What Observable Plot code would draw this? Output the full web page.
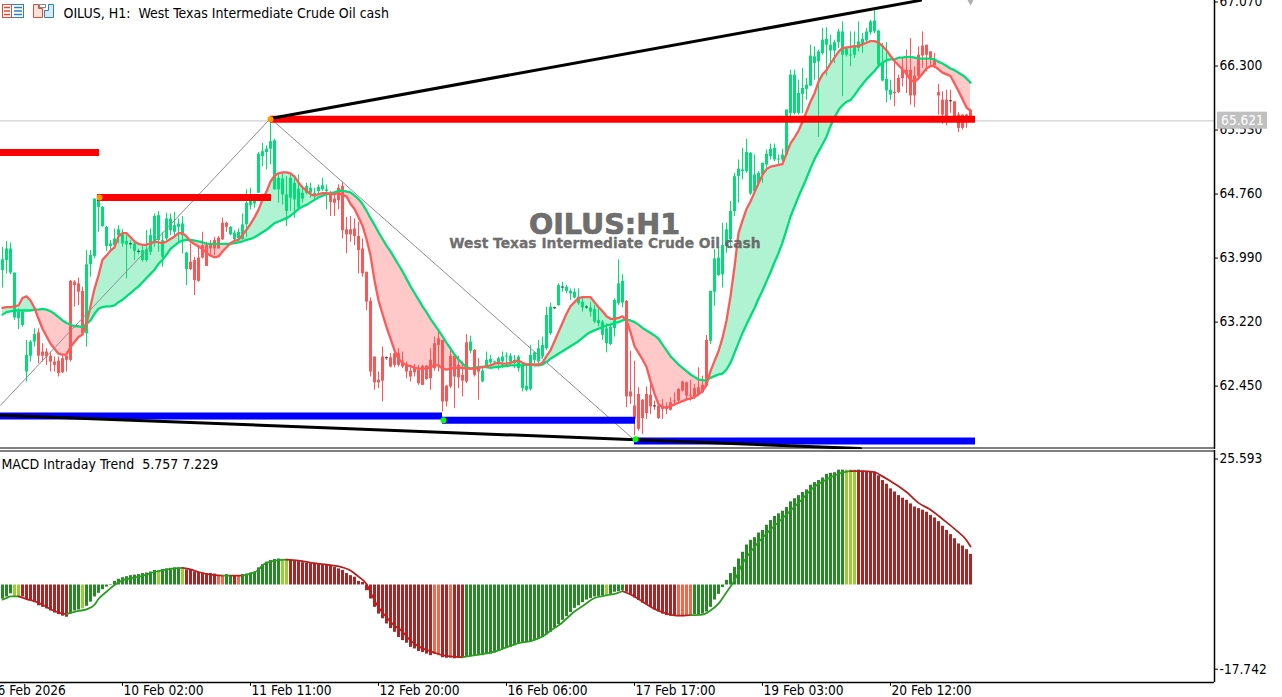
<!DOCTYPE html>
<html><head><meta charset="utf-8">
<script src="https://cdn.jsdelivr.net/npm/d3@7"></script>
<script src="https://cdn.jsdelivr.net/npm/@observablehq/plot@0.6"></script>
<style>
html,body{margin:0;padding:0;background:#fff;overflow:hidden}
#wrap{position:relative;width:1282px;height:697px}
#price,#macd{position:absolute;left:0}
#price{top:0}#macd{top:450px}
#icons{position:absolute;left:2px;top:4px}
</style></head><body>
<div id="wrap"><div id="price"></div><div id="macd"></div>
<svg id="icons" width="56" height="15" viewBox="0 0 56 15">
<rect x=".5" y=".5" width="21" height="13" fill="#fff" stroke="#2f7fc1"/><rect x=".5" y=".5" width="9" height="13" fill="#fff" stroke="#e04b3a"/>
<path d="M2 3.500h6M2 7h6M2 10.500h6" stroke="#e04b3a" stroke-width="1.6"/><path d="M12 3.500h8M12 7h8M12 10.500h8" stroke="#2f7fc1" stroke-width="1.6"/>
<path d="M31.500 .5h5v4h4v9h-9z" fill="#fde0d8" stroke="#e04b3a"/><path d="M46.500 .5h5v13h-9v-7h4z" fill="#d8ecf8" stroke="#2f7fc1"/><rect x="37.500" y=".5" width="6" height="3" fill="#fff" stroke="#888"/>
</svg></div>
<script>
const bodyTop=[
63.97,64.10,64.10,63.81,63.34,63.34,62.82,62.98,63.07,63.09,
62.86,62.86,62.81,62.74,62.75,62.78,62.81,63.71,63.70,63.68,
63.59,63.91,64.02,64.70,64.70,64.60,64.36,64.16,64.22,64.33,
64.27,64.19,64.16,64.16,64.07,64.08,64.09,64.26,64.49,64.50,
64.20,64.46,64.46,64.38,64.40,64.40,64.05,63.94,63.96,63.99,
64.14,64.14,64.16,64.20,64.23,64.41,64.41,64.36,64.29,64.30,
64.39,64.65,64.69,64.67,65.24,65.27,65.30,65.39,65.40,64.95,
64.94,64.75,64.95,64.89,64.82,64.77,64.85,64.83,64.77,64.84,
64.86,64.81,64.76,64.70,64.83,64.85,64.33,64.33,64.34,64.25,
64.10,63.82,63.47,62.80,62.52,62.80,62.79,62.79,62.84,62.84,
62.74,62.71,62.63,62.66,62.64,62.69,62.69,62.76,62.96,63.02,
63.00,62.45,62.81,62.81,62.70,62.58,62.97,62.98,62.88,62.68,
62.63,62.76,62.77,62.74,62.78,62.80,62.81,62.81,62.76,62.80,
62.70,62.45,62.82,62.85,62.90,62.94,63.30,63.40,63.39,63.66,
63.64,63.64,63.59,63.58,63.52,63.46,63.40,63.39,63.37,63.24,
63.22,63.14,63.16,63.48,63.68,63.71,63.47,62.38,62.21,62.35,
62.28,62.35,62.34,62.20,62.21,62.21,62.20,62.25,62.27,62.41,
62.50,62.49,62.34,62.42,62.43,62.46,63.00,63.59,63.98,63.99,
64.14,64.33,64.55,64.97,65.06,65.05,65.26,65.25,64.99,65.01,
65.13,65.24,65.30,65.31,65.18,65.23,65.77,66.19,66.19,65.97,
66.03,66.07,66.42,66.41,66.47,66.61,66.62,66.55,66.58,66.71,
66.71,66.50,66.43,66.53,66.59,66.62,66.71,66.83,66.84,66.72,
66.33,66.14,66.01,65.98,66.15,66.25,66.25,66.25,66.18,66.43,
66.54,66.55,66.47,66.38,65.98,65.89,65.89,65.88,65.87,65.71,
65.71,65.71,65.77];
const bodyBottom=[
63.84,63.96,63.81,63.27,63.26,63.18,62.62,62.81,62.98,62.81,
62.81,62.80,62.74,62.70,62.60,62.61,62.76,62.76,63.66,63.58,
63.08,63.08,63.91,64.01,64.60,64.37,64.13,64.13,64.14,64.26,
64.16,64.15,64.15,64.07,64.06,63.96,63.96,64.06,64.16,64.20,
64.00,64.22,64.32,64.30,64.36,64.26,63.85,63.85,63.72,63.71,
63.99,63.89,64.10,64.10,64.10,64.21,64.36,64.27,64.21,64.22,
64.21,64.39,64.62,64.64,64.77,65.21,65.26,65.30,64.81,64.81,
64.75,64.55,64.71,64.69,64.59,64.70,64.77,64.77,64.74,64.79,
64.81,64.79,64.66,64.65,64.68,64.32,64.27,64.27,64.25,64.08,
63.80,63.46,62.62,62.49,62.49,62.51,62.78,62.68,62.70,62.70,
62.68,62.62,62.56,62.61,62.48,62.46,62.53,62.54,62.66,62.94,
62.26,62.26,62.44,62.56,62.55,62.51,62.50,62.87,62.58,62.62,
62.50,62.67,62.73,62.73,62.72,62.74,62.80,62.74,62.72,62.66,
62.42,62.40,62.41,62.76,62.74,62.80,62.90,63.08,63.38,63.42,
63.63,63.59,63.56,63.51,63.44,63.39,63.39,63.34,63.22,63.20,
63.06,62.96,62.95,63.14,63.44,63.45,62.32,62.32,62.05,61.93,
62.06,62.12,62.20,62.20,62.06,62.17,62.17,62.16,62.26,62.27,
62.39,62.33,62.33,62.31,62.35,62.37,62.45,62.99,63.58,63.78,
63.79,64.13,64.21,64.55,64.97,65.03,65.03,64.76,64.79,64.89,
64.99,65.11,65.21,65.17,65.17,65.17,65.23,65.73,65.73,65.73,
65.96,66.02,66.06,66.33,66.35,66.45,66.55,66.48,66.48,66.58,
66.43,66.43,66.42,66.43,66.51,66.56,66.60,66.70,66.71,66.31,
66.12,66.00,65.95,65.97,65.98,66.15,66.19,65.94,65.94,66.17,
66.42,66.43,66.38,66.30,65.94,65.71,65.69,65.87,65.69,65.55,
65.55,65.62,65.64];
const high=[
64.12,64.19,64.17,63.81,63.38,63.36,63.00,63.00,63.14,63.14,
62.96,62.90,62.86,62.80,62.80,62.82,62.86,63.72,63.72,63.75,
63.64,64.08,64.08,64.70,64.74,64.61,64.37,64.20,64.34,64.38,
64.33,64.26,64.20,64.20,64.10,64.13,64.32,64.34,64.52,64.55,
64.30,64.53,64.52,64.54,64.46,64.49,64.06,64.16,64.00,64.14,
64.30,64.18,64.20,64.24,64.25,64.47,64.42,64.37,64.32,64.34,
64.52,64.81,64.83,64.71,65.26,65.37,65.34,65.65,65.42,64.99,
65.01,64.97,64.99,64.97,64.99,64.85,64.89,64.89,64.83,64.87,
64.95,64.87,64.79,64.77,64.87,64.90,64.48,64.49,64.46,64.42,
64.22,63.82,63.51,62.80,62.62,62.92,62.80,62.84,62.85,62.90,
62.86,62.74,62.70,62.71,62.70,62.70,62.70,62.90,63.04,63.12,
63.00,62.46,62.92,62.82,62.81,62.74,63.07,63.05,62.89,62.78,
62.66,62.86,62.82,62.75,62.80,62.86,62.85,62.84,62.82,62.82,
62.73,62.70,62.94,62.86,63.00,63.04,63.40,63.45,63.40,63.68,
63.70,63.66,63.62,63.62,63.62,63.52,63.42,63.46,63.42,63.38,
63.24,63.20,63.20,63.50,63.97,63.79,63.48,62.87,62.75,62.43,
62.29,62.44,62.51,62.27,62.21,62.29,62.25,62.31,62.37,62.42,
62.51,62.50,62.52,62.47,62.67,62.57,63.06,63.59,64.09,64.12,
64.41,64.41,64.67,65.01,65.17,65.31,65.42,65.26,65.23,65.03,
65.13,65.29,65.36,65.36,65.23,65.30,65.77,66.25,66.25,66.13,
66.27,66.15,66.55,66.53,66.49,66.75,66.76,66.67,66.61,66.74,
66.83,66.53,66.71,66.71,66.83,66.69,66.75,66.85,66.98,66.73,
66.57,66.58,66.13,66.37,66.19,66.39,66.49,66.63,66.29,66.53,
66.71,66.55,66.47,66.45,66.08,65.99,66.01,66.01,65.87,65.74,
65.71,65.72,65.78];
const low=[
63.63,63.80,63.79,63.24,63.13,63.16,62.50,62.74,62.92,62.72,
62.74,62.70,62.62,62.62,62.56,62.60,62.62,62.74,63.40,63.42,
63.06,62.92,63.76,63.98,64.30,64.36,64.07,64.08,64.12,64.16,
64.12,63.74,64.10,63.96,64.03,63.94,63.94,64.02,64.12,64.06,
63.88,64.20,64.26,64.24,64.18,64.04,63.66,63.84,63.54,63.70,
63.98,63.89,64.02,64.02,64.10,64.20,64.30,64.26,64.19,64.21,
64.21,64.24,64.57,64.59,64.77,65.09,65.05,65.11,64.81,64.65,
64.63,64.37,64.55,64.47,64.57,64.65,64.75,64.71,64.69,64.75,
64.79,64.57,64.49,64.49,64.57,64.22,64.04,64.18,64.14,63.80,
63.76,63.36,62.56,62.40,62.42,62.26,62.76,62.67,62.67,62.68,
62.66,62.54,62.50,62.56,62.46,62.46,62.52,62.40,62.63,62.62,
62.14,62.20,62.42,62.18,62.42,62.32,62.48,62.84,62.56,62.28,
62.49,62.66,62.70,62.72,62.64,62.66,62.68,62.70,62.66,62.62,
62.38,62.38,62.39,62.72,62.72,62.78,62.88,63.06,63.37,63.41,
63.58,63.56,63.48,63.50,63.42,63.34,63.37,63.28,63.20,63.16,
63.00,62.85,62.94,63.04,63.42,63.39,62.19,62.23,61.85,61.91,
61.87,62.05,62.11,62.16,62.05,62.05,62.11,62.15,62.21,62.23,
62.38,62.27,62.27,62.29,62.33,62.36,62.43,62.95,63.41,63.77,
63.63,64.05,64.13,64.49,64.65,64.93,65.01,64.74,64.75,64.85,
64.89,65.07,65.17,65.15,65.11,65.13,65.21,65.61,65.71,65.71,
65.73,65.89,66.05,66.13,65.44,66.43,66.18,66.31,66.33,66.51,
65.93,66.41,66.29,66.39,66.47,66.45,66.57,66.67,66.69,66.30,
66.11,65.86,65.89,65.81,65.97,66.05,65.97,65.83,65.80,66.15,
66.27,66.23,66.29,66.27,65.71,65.60,65.58,65.73,65.65,65.50,
65.53,65.55,65.63];
const fastMA=[
63.39,63.40,63.40,63.41,63.42,63.51,63.53,63.48,63.39,63.26,
63.14,63.05,62.96,62.90,62.84,62.83,62.83,62.92,62.98,63.04,
63.07,63.20,63.41,63.62,63.78,63.97,64.02,64.08,64.12,64.25,
64.29,64.29,64.24,64.19,64.16,64.15,64.15,64.17,64.19,64.18,
64.17,64.19,64.22,64.25,64.29,64.29,64.25,64.19,64.16,64.13,
64.10,64.05,64.02,64.00,64.01,64.07,64.12,64.17,64.20,64.21,
64.27,64.33,64.40,64.48,64.57,64.69,64.79,64.91,64.98,65.01,
65.02,65.02,65.01,64.97,64.90,64.84,64.80,64.76,64.74,64.76,
64.77,64.77,64.76,64.76,64.77,64.75,64.73,64.64,64.58,64.48,
64.38,64.22,64.02,63.72,63.48,63.32,63.16,63.02,62.88,62.78,
62.73,62.70,62.69,62.67,62.66,62.66,62.66,62.68,62.70,62.70,
62.66,62.65,62.66,62.67,62.67,62.67,62.66,62.66,62.66,62.67,
62.68,62.69,62.70,62.72,62.73,62.72,62.72,62.73,62.75,62.76,
62.73,62.71,62.71,62.71,62.71,62.73,62.81,62.88,62.99,63.10,
63.21,63.32,63.41,63.46,63.51,63.52,63.52,63.52,63.46,63.40,
63.35,63.29,63.26,63.26,63.27,63.29,63.24,63.10,62.93,62.85,
62.77,62.68,62.51,62.36,62.23,62.20,62.19,62.21,62.23,62.25,
62.27,62.29,62.30,62.32,62.35,62.39,62.47,62.63,62.75,62.87,
63.03,63.24,63.53,63.88,64.29,64.44,64.58,64.67,64.78,64.89,
64.99,65.06,65.09,65.10,65.11,65.12,65.25,65.37,65.44,65.52,
65.63,65.75,65.87,65.97,66.11,66.20,66.25,66.33,66.40,66.47,
66.52,66.52,66.53,66.54,66.54,66.56,66.58,66.60,66.60,66.58,
66.54,66.49,66.42,66.36,66.31,66.26,66.21,66.13,66.11,66.15,
66.21,66.27,66.30,66.30,66.26,66.22,66.20,66.18,66.09,66.00,
65.90,65.80,65.76];
const slowMA=[
63.31,63.34,63.35,63.36,63.36,63.36,63.36,63.36,63.37,63.37,
63.38,63.37,63.35,63.32,63.28,63.24,63.21,63.19,63.17,63.17,
63.16,63.20,63.24,63.32,63.38,63.40,63.41,63.41,63.42,63.46,
63.49,63.53,63.57,63.61,63.65,63.70,63.75,63.80,63.85,63.92,
63.97,64.03,64.10,64.14,64.18,64.20,64.21,64.21,64.20,64.19,
64.18,64.16,64.16,64.16,64.16,64.16,64.16,64.16,64.17,64.18,
64.19,64.21,64.22,64.24,64.27,64.30,64.33,64.37,64.41,64.43,
64.45,64.47,64.50,64.54,64.58,64.61,64.63,64.66,64.69,64.72,
64.74,64.76,64.77,64.78,64.80,64.80,64.79,64.78,64.74,64.70,
64.64,64.56,64.47,64.39,64.30,64.22,64.14,64.07,63.99,63.91,
63.83,63.74,63.65,63.57,63.49,63.41,63.34,63.26,63.19,63.12,
63.05,62.97,62.90,62.83,62.77,62.72,62.68,62.66,62.67,62.68,
62.68,62.68,62.67,62.68,62.68,62.69,62.69,62.70,62.70,62.70,
62.70,62.71,62.71,62.70,62.70,62.71,62.74,62.78,62.81,62.84,
62.87,62.90,62.93,62.96,62.99,63.03,63.07,63.10,63.12,63.14,
63.16,63.18,63.19,63.21,63.22,63.24,63.25,63.24,63.22,63.19,
63.15,63.12,63.09,63.06,63.02,62.95,62.88,62.81,62.76,62.71,
62.67,62.63,62.59,62.56,62.53,62.52,62.52,62.55,62.57,62.59,
62.60,62.65,62.73,62.85,62.97,63.09,63.19,63.29,63.39,63.50,
63.60,63.71,63.82,63.94,64.05,64.18,64.33,64.49,64.61,64.73,
64.84,64.95,65.07,65.18,65.27,65.36,65.45,65.58,65.68,65.77,
65.83,65.87,65.89,65.95,66.02,66.08,66.14,66.19,66.24,66.30,
66.34,66.37,66.38,66.38,66.40,66.40,66.41,66.41,66.40,66.39,
66.39,66.39,66.39,66.38,66.35,66.33,66.30,66.27,66.25,66.22,
66.19,66.15,66.10];
const macdHist=[
-2.7,-2.3,-1.7,-2.2,-2.2,-2.3,-2.8,-3.1,-3.4,-4.0,
-4.3,-4.6,-5.0,-5.4,-5.7,-6.0,-6.2,-5.6,-5.0,-4.8,
-4.6,-4.1,-3.3,-2.3,-1.6,-0.9,-0.4,-0.1,0.7,1.1,
1.4,1.6,1.8,1.9,2.0,2.2,2.3,2.5,2.8,2.8,
3.0,3.1,3.2,3.3,3.3,3.0,2.9,2.8,2.5,2.4,
2.3,2.2,2.2,2.1,1.8,1.8,2.0,1.8,1.8,1.8,
2.0,2.1,2.3,2.4,3.3,3.9,4.4,4.7,4.9,5.0,
4.7,4.7,4.8,4.6,4.5,4.3,4.2,4.1,4.1,4.0,
3.9,3.8,3.7,3.4,3.1,2.8,2.2,1.8,1.5,0.7,
0.5,-1.1,-2.7,-4.3,-5.6,-6.5,-7.5,-8.4,-9.1,-10.1,
-10.7,-11.2,-12.0,-12.3,-12.8,-13.0,-13.3,-13.6,-13.4,-13.6,
-14.0,-14.1,-14.1,-14.2,-14.1,-14.0,-13.9,-13.8,-13.7,-13.6,
-13.6,-13.4,-13.3,-13.1,-12.8,-12.4,-12.1,-12.0,-11.7,-11.3,
-11.2,-11.1,-11.0,-10.7,-10.4,-10.1,-9.6,-9.1,-8.3,-7.6,
-6.8,-6.1,-5.3,-4.5,-4.0,-3.4,-2.9,-2.6,-2.3,-2.2,
-2.1,-2.0,-1.8,-1.4,-1.3,-1.1,-1.4,-1.8,-2.5,-3.0,
-3.5,-3.8,-4.3,-4.8,-5.2,-5.6,-5.9,-6.0,-6.0,-6.1,
-6.1,-5.9,-5.9,-5.7,-5.7,-5.6,-5.2,-4.3,-2.9,-1.8,
-0.5,0.9,2.2,3.4,5.0,6.3,7.7,8.6,9.1,10.0,
10.5,11.5,12.4,13.2,13.7,14.2,14.9,16.0,16.6,17.2,
17.8,18.3,19.2,19.7,20.1,20.6,21.3,21.5,21.6,22.1,
22.1,22.1,22.1,22.1,22.1,21.9,21.8,21.7,21.7,21.0,
20.1,19.4,18.5,17.9,17.2,16.7,16.3,15.6,15.0,14.7,
14.4,14.0,13.4,12.9,12.2,11.3,10.5,9.7,8.9,7.9,
7.5,6.8,5.9];
const histRunLength=[3,2,12,3,1,18,1,5,1,8,2,2,1,1,10,2,36,2,2,1,3,35,1,4,13,4,38,3,29];
const histRunState=["up","upFade","down","up","upFade","up","upFade","up","upFade","down","downFade","up","down","downFade","up","upFade","down","downFade","down","downFade","down","up","upFade","up","down","downFade","up","upFade","down"];
const macdKnotBar=[0,1,2,4, 4,6,8,10,13,15,16, 16,19,21,23,24,26,28,30,33,36,38,42,45, 45,47,49,52,55, 55,57, 57,60, 60,62,64,65,67,69,71, 71,74,78,82,85,87,89,91,92,94,96,98,99.5,102,104.5,108,110.5,115, 115,119,123,126,129,132,135,137,139.5,143,145.5,148,151,153.5,155, 155,157,160,163,166,169,172, 172,175,177,179,181,183,185,188,191,194,197,199,203,206,209,212, 212,215,218,220,223,226,229,232,235,238,241,242];
const macdKnotValue=[-2.8,-2.5,-2.2,-2.2, -2.2,-2.7,-3.1,-3.8,-5.0,-5.5,-5.6, -5.6,-5.0,-4.7,-3.8,-2.7,-1.3,0,0.9,1.4,2.0,2.5,3.1,3.3, 3.3,3.0,2.5,2.0,1.8, 1.8,1.8, 1.8,1.8, 1.8,2.2,2.9,3.8,4.5,4.8,4.9, 4.9,4.7,4.2,3.8,3.4,2.8,1.6,0.2,-1.4,-4.3,-6.2,-7.8,-8.6,-10.7,-12.0,-13.0,-13.6,-13.9, -13.9,-13.4,-12.8,-12.0,-11.2,-10.8,-9.9,-8.8,-7.5,-5.1,-3.8,-2.5,-2.0,-1.6,-1.2, -1.2,-1.8,-3.2,-4.6,-5.5,-5.9,-5.8, -5.8,-5.7,-4.9,-3.6,-1.4,0.9,4.1,7.3,9.9,12.1,14.3,15.8,18.9,20.3,21.4,21.9, 21.9,21.9,21.7,20.9,19.5,17.9,15.8,14.5,12.7,10.8,8.6,7.4];
const macdKnotLength=[4,7,13,5,2,2,7,18,15,7,16,12];
const macdKnotRising=[true,false,true,false,true,false,true,false,true,false,true,false];
const priceTicks=[67.07,66.30,65.53,64.76,63.99,63.22,62.45];
const macdTicksTop=[25.593],macdTicksBottom=[-17.742];
const timeTickBars=[30,62,94,126,158,190,222];
const timeTickLabels=["10 Feb 02:00","11 Feb 11:00","12 Feb 20:00","16 Feb 06:00","17 Feb 17:00","19 Feb 03:00","20 Feb 12:00"];
const firstDateLabel="6 Feb 2026", firstDateBar=-1.25;
const resistanceFrom=[-0.5,23.75,67],resistanceTo=[24.25,67.25,243.25],resistancePrice=[65.26,64.72,65.66];
const supportFrom=[-0.5,110,158],supportTo=[110,158.25,243.25],supportPrice=[62.09,62.04,61.79];
const zigzagBar=[-0.5,67,158],zigzagPrice=[62.22,65.67,61.80];
const upperTrendBar=[67,229.5],upperTrendPrice=[65.67,67.09];
const lowerTrendBar=[-0.5,214.5],lowerTrendPrice=[62.10,61.70];
const swingHighBar=[24.25,67],swingHighPrice=[64.72,65.66];
const swingLowBar=[110.25,158.25],swingLowPrice=[62.04,61.81];
const bidShown="65.621",bidLevel=65.64;
const headerText="OILUS, H1:\u00a0 West Texas Intermediate Crude Oil cash";
const macdLabel="MACD Intraday Trend\u00a0 5.757 7.229";
const wmTitle="OILUS:H1",wmSub="West Texas Intermediate Crude Oil cash";

const FONT="'DejaVu Sans Condensed','DejaVu Sans',sans-serif";
const GREEN="#00df74",RED="#ff5555";
const AX=13.6;
const fmt=d=>d.toFixed(3);
const stateColor={up:"#228b22",upFade:"#9acd32",down:"#b22222",downFade:"#ff6347"};
const xDom=[-0.5,303];
const rows=d3.range(bodyTop.length).map(i=>({i,top:bodyTop[i],bot:bodyBottom[i],hi:high[i],lo:low[i],fast:fastMA[i],slow:slowMA[i],hist:macdHist[i]}));
const states=histRunLength.flatMap((n,k)=>Array(n).fill(histRunState[k]));
rows.forEach((d,i)=>{d.state=states[i];d.col=d.fast>=d.slow?GREEN:RED;});
const seg=(a,b)=>a.map((_,k)=>({a:a[k],b:b[k]}));
const rules=(from,to,p)=>from.map((f,k)=>({f,t:to[k],p:p[k]}));
const style={fontFamily:FONT,fontSize:"13px",background:"transparent",color:"#000",overflow:"hidden"};
const knotRows=[];let pos=0;
macdKnotLength.forEach((n,s)=>{for(let k=0;k<n;k++,pos++)knotRows.push({x:macdKnotBar[pos],v:macdKnotValue[pos],s,rising:macdKnotRising[s]});});

const pricePlot=Plot.plot({
 width:1282,height:449,marginLeft:0,marginRight:68,marginTop:0,marginBottom:0,style,
 x:{domain:xDom,range:[0,1214],axis:null},
 y:{domain:[61.70,67.088],range:[448,0],axis:null},
 marks:[
  Plot.ruleY([bidLevel],{stroke:"#c4c4c4",strokeWidth:1}),
  Plot.areaY(rows,{x:"i",y1:"slow",y2:d=>Math.max(d.fast,d.slow),fill:"#b0f3d3",curve:"linear"}),
  Plot.areaY(rows,{x:"i",y1:"slow",y2:d=>Math.min(d.fast,d.slow),fill:"#ffc9c9",curve:"linear"}),
  Plot.ruleX(rows,{x:"i",y1:"lo",y2:"hi",stroke:"col",strokeWidth:1}),
  Plot.ruleX(rows,{x:"i",y1:"bot",y2:d=>Math.max(d.top,d.bot+0.012),stroke:d=>d.top-d.bot<=0.01?"#333":d.col,strokeWidth:3}),
  Plot.line(rows,{x:"i",y:"slow",stroke:"#00dc78",strokeWidth:2.3}),
  Plot.line(rows,{x:"i",y:"fast",stroke:"#ff5a5a",strokeWidth:2.3}),
  Plot.text([wmTitle],{x:()=>150.5,y:()=>64.39,text:d=>d,fontFamily:"'DejaVu Sans',sans-serif",fontWeight:"bold",fontSize:28.6,fill:"#666",stroke:"#666",strokeWidth:.7,fillOpacity:.95}),
  Plot.text([wmSub],{x:()=>150.6,y:()=>64.17,text:d=>d,fontFamily:"'DejaVu Sans',sans-serif",fontWeight:"bold",fontSize:13.85,fill:"#666",stroke:"#666",strokeWidth:.3,fillOpacity:.95}),
  Plot.line(seg(zigzagBar,zigzagPrice),{x:"a",y:"b",stroke:"#8e8e8e",strokeWidth:1}),
  Plot.ruleY(rules(resistanceFrom,resistanceTo,resistancePrice),{x1:"f",x2:"t",y:"p",stroke:"#ff0000",strokeWidth:7}),
  Plot.ruleY(rules(supportFrom,supportTo,supportPrice),{x1:"f",x2:"t",y:"p",stroke:"#0000ff",strokeWidth:7}),
  Plot.line(seg(upperTrendBar,upperTrendPrice),{x:"a",y:"b",stroke:"#000",strokeWidth:3,clip:true}),
  Plot.line(seg(lowerTrendBar,lowerTrendPrice),{x:"a",y:"b",stroke:"#000",strokeWidth:3,clip:true}),
  Plot.dot(seg(swingHighBar,swingHighPrice),{x:"a",y:"b",r:3,fill:"#ff9a00"}),
  Plot.dot(seg(swingLowBar,swingLowPrice),{x:"a",y:"b",r:3,fill:"#00ff00"}),
  Plot.dot([242],{x:d=>d,y:()=>67.088,symbol:"diamond",r:3,fill:"#b0b0b0"}),
  Plot.axisY({anchor:"right",ticks:priceTicks,tickFormat:fmt,tickSize:3,tickPadding:2,label:null,fontSize:AX}),
  Plot.rect([{}],{x1:()=>303.75,x2:()=>316.25,y1:()=>65.54,y2:()=>65.745,fill:"#c0c0c0"}),
  Plot.text([bidShown],{x:()=>310,y:()=>bidLevel,text:d=>d,fill:"#fff",fontSize:AX}),
  Plot.ruleX([303],{stroke:"#000",strokeWidth:1.5}),
  Plot.ruleY([61.706],{stroke:"#000",strokeWidth:1.2}),
  Plot.text([headerText],{frameAnchor:"top-left",dx:63,dy:8,text:d=>d,fontSize:14,fill:"#000",lineAnchor:"top"})
 ]});
document.getElementById("price").appendChild(pricePlot);

const macdPlot=Plot.plot({
 width:1282,height:247,marginLeft:0,marginRight:68,marginTop:0,marginBottom:15,style,
 x:{domain:xDom,range:[0,1214],axis:null},
 y:{domain:[-17.742,25.593],range:[226.7,1.5],axis:null},
 marks:[
  Plot.ruleX(rows,{x:"i",y1:()=>0,y2:"hist",stroke:d=>stateColor[d.state],strokeWidth:3}),
  Plot.line(knotRows,{x:"x",y:"v",z:"s",stroke:d=>d.rising?"#2e9a24":"#b22222",strokeWidth:1.8,curve:"monotone-x"}),
  Plot.ruleX([303],{stroke:"#000",strokeWidth:1.5}),
  Plot.ruleY([25.79],{stroke:"#000",strokeWidth:1.2}),
  Plot.ruleY([-18.76],{stroke:"#000",strokeWidth:1.5}),
  Plot.axisY({anchor:"right",ticks:macdTicksTop,tickFormat:fmt,tickSize:3,tickPadding:2,label:null,fontSize:AX,dy:7}),
  Plot.axisY({anchor:"right",ticks:macdTicksBottom,tickFormat:fmt,tickSize:3,tickPadding:2,label:null,fontSize:AX,dy:-8}),
  Plot.ruleX(timeTickBars,{x:d=>d,y1:()=>-18.76,y2:()=>-19.5,strokeWidth:1,stroke:"#000"}),
  Plot.text(timeTickLabels,{x:(d,k)=>timeTickBars[k],frameAnchor:"bottom",textAnchor:"start",dx:1,dy:12.5,lineAnchor:"bottom",text:d=>d,fontSize:AX}),
  Plot.text([firstDateLabel],{x:()=>firstDateBar,frameAnchor:"bottom",textAnchor:"start",dy:12.5,lineAnchor:"bottom",text:d=>d,fontSize:AX}),
  Plot.text([macdLabel],{frameAnchor:"top-left",dx:1,dy:8.5,text:d=>d,fontSize:14,fill:"#000",lineAnchor:"top"})
 ]});
document.getElementById("macd").appendChild(macdPlot);
</script></body></html>
